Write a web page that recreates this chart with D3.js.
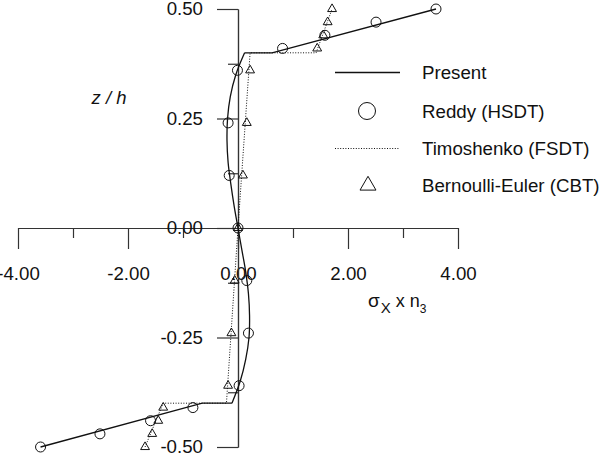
<!DOCTYPE html>
<html>
<head>
<meta charset="utf-8">
<script src="https://cdn.jsdelivr.net/npm/d3@7"></script>
<style>
  body { margin: 0; background: #fff; }
  svg { display: block; font-family: "Liberation Sans", Arial, sans-serif; }
</style>
</head>
<body>
<svg id="chart" width="604" height="460"></svg>
<script>
// --- data (z/h vs sigma_x * n3) ---

// Present: core curve, then the two face sheets
const presentCoreZ = [-0.40, -0.35, -0.30, -0.25, -0.20, -0.15, -0.10, -0.05, 0.00, 0.05, 0.10, 0.15, 0.20, 0.25, 0.30, 0.35, 0.40];
const presentCoreS = [-0.11, 0.04, 0.14, 0.20, 0.21, 0.19, 0.14, 0.07, 0.00, -0.07, -0.13, -0.18, -0.20, -0.19, -0.14, -0.04, 0.12];
const presentTopZ = [0.40, 0.40, 0.50];
const presentTopS = [0.12, 0.62, 3.60];
const presentBotZ = [-0.40, -0.40, -0.50];
const presentBotS = [-0.11, -0.65, -3.59];

// Reddy (HSDT) circles
const reddyZ = [-0.50, -0.47, -0.44, -0.41, -0.36, -0.24, -0.12, 0.00, 0.12, 0.24, 0.36, 0.41, 0.44, 0.47, 0.50];
const reddyS = [-3.59, -2.51, -1.59, -0.82, 0.02, 0.19, 0.16, 0.00, -0.16, -0.18, -0.01, 0.81, 1.58, 2.51, 3.60];

// Timoshenko (FSDT) dotted line
const timoZ = [-0.50, -0.40, -0.40, 0.00, 0.40, 0.40, 0.50];
const timoS = [-1.69, -1.36, -0.21, 0.00, 0.22, 1.42, 1.71];

// Bernoulli-Euler (CBT) triangles
const cbtZ = [-0.50, -0.47, -0.44, -0.41, -0.36, -0.24, -0.12, 0.00, 0.12, 0.24, 0.36, 0.41, 0.44, 0.47, 0.50];
const cbtS = [-1.69, -1.56, -1.45, -1.36, -0.18, -0.12, -0.06, 0.00, 0.09, 0.16, 0.22, 1.44, 1.55, 1.63, 1.71];

// tick values
const xMajor = [-4, -2, 0, 2, 4];
const xMinor = [-3, -1, 1, 3];
const yMajor = [-0.5, -0.25, 0, 0.25, 0.5];
const yMinor = [-0.375, -0.125, 0.125, 0.375];

const legendItems = ['Present', 'Reddy (HSDT)', 'Timoshenko (FSDT)', 'Bernoulli-Euler (CBT)'];

const svg = d3.select('#chart');
const ink = '#111';
const fontSize = 18.7;

const x = d3.scaleLinear().domain([-4, 4]).range([18, 458]);
const y = d3.scaleLinear().domain([-0.5, 0.5]).range([447, 9]);

const fmt = d => d.toFixed(2);
const zip = (zs, ss) => zs.map((z, i) => ({ z: z, s: ss[i] }));

// 1. Axes crossing at the origin
function styleAxis(g) {
    g.selectAll('path, line').attr('stroke', '#333').attr('stroke-width', 1.2);
    g.selectAll('text').attr('fill', ink).attr('font-size', fontSize)
        .attr('font-family', '"Liberation Sans", Arial, sans-serif');
}

svg.append('g')
    .attr('transform', `translate(0,${y(0)})`)
    .call(d3.axisBottom(x).tickValues(xMinor).tickSize(10).tickSizeOuter(0).tickFormat(''))
    .call(styleAxis);
svg.append('g')
    .attr('transform', `translate(0,${y(0)})`)
    .call(d3.axisBottom(x).tickValues(xMajor).tickSize(21).tickSizeOuter(0).tickPadding(18).tickFormat(fmt))
    .call(styleAxis);

svg.append('g')
    .attr('transform', `translate(${x(0)},0)`)
    .call(d3.axisLeft(y).tickValues(yMinor).tickSize(10).tickSizeOuter(0).tickFormat(''))
    .call(styleAxis);
svg.append('g')
    .attr('transform', `translate(${x(0)},0)`)
    .call(d3.axisLeft(y).tickValues(yMajor).tickSize(21).tickSizeOuter(0).tickPadding(14).tickFormat(fmt))
    .call(styleAxis);

// 2. Lines
const lineLin = d3.line().x(d => x(d.s)).y(d => y(d.z));
const lineCurve = d3.line().x(d => x(d.s)).y(d => y(d.z)).curve(d3.curveCatmullRom);

svg.append('path')
    .datum(zip(timoZ, timoS))
    .attr('d', lineLin)
    .attr('fill', 'none')
    .attr('stroke', ink)
    .attr('stroke-width', 1)
    .attr('stroke-dasharray', '1,1.6');

[zip(presentTopZ, presentTopS), zip(presentBotZ, presentBotS)].forEach(seg => {
    svg.append('path')
        .datum(seg)
        .attr('d', lineLin)
        .attr('fill', 'none')
        .attr('stroke', ink)
        .attr('stroke-width', 1.3);
});
svg.append('path')
    .datum(zip(presentCoreZ, presentCoreS))
    .attr('d', lineCurve)
    .attr('fill', 'none')
    .attr('stroke', ink)
    .attr('stroke-width', 1.3);

// 3. Markers
const tri = d3.symbol().type(d3.symbolTriangle).size(34);
const triBig = d3.symbol().type(d3.symbolTriangle).size(110);

svg.append('g').selectAll('path')
    .data(zip(cbtZ, cbtS))
    .enter()
    .append('path')
    .attr('d', tri)
    .attr('transform', d => `translate(${x(d.s)},${y(d.z)})`)
    .attr('fill', 'none')
    .attr('stroke', ink)
    .attr('stroke-width', 1);

svg.append('g').selectAll('circle')
    .data(zip(reddyZ, reddyS))
    .enter()
    .append('circle')
    .attr('cx', d => x(d.s))
    .attr('cy', d => y(d.z))
    .attr('r', 5)
    .attr('fill', 'none')
    .attr('stroke', ink)
    .attr('stroke-width', 1);

// 4. Axis titles
svg.append('text')
    .attr('x', 109)
    .attr('y', 104)
    .attr('text-anchor', 'middle')
    .attr('font-size', 18.5)
    .attr('font-style', 'italic')
    .attr('fill', ink)
    .text('z / h');

const xt = svg.append('text')
    .attr('x', 368)
    .attr('y', 307)
    .attr('font-size', 19)
    .attr('fill', ink);
xt.append('tspan').text('σ');
xt.append('tspan').attr('font-size', 15).attr('dy', 6).attr('dx', 1).text('X');
xt.append('tspan').attr('font-size', 18).attr('dy', -6).text(' x n');
xt.append('tspan').attr('font-size', 12).attr('dy', 6).text('3');

// 5. Legend
const legX = 422;
const legY = [72.5, 111, 148.5, 185.5];
const lg = svg.append('g');

lg.append('line')
    .attr('x1', 335).attr('x2', 400)
    .attr('y1', legY[0]).attr('y2', legY[0])
    .attr('stroke', ink).attr('stroke-width', 1.3);
lg.append('circle')
    .attr('cx', 367).attr('cy', legY[1]).attr('r', 8.5)
    .attr('fill', 'none').attr('stroke', ink).attr('stroke-width', 1);
lg.append('line')
    .attr('x1', 335).attr('x2', 400)
    .attr('y1', legY[2]).attr('y2', legY[2])
    .attr('stroke', ink).attr('stroke-width', 1)
    .attr('stroke-dasharray', '1,1.6');
lg.append('path')
    .attr('d', triBig)
    .attr('transform', `translate(368,${legY[3]})`)
    .attr('fill', 'none').attr('stroke', ink).attr('stroke-width', 1);

lg.selectAll('text')
    .data(legendItems)
    .enter()
    .append('text')
    .attr('x', legX)
    .attr('y', (d, i) => legY[i])
    .attr('dy', '0.35em')
    .attr('font-size', fontSize)
    .attr('fill', ink)
    .text(d => d);
</script>
</body>
</html>
